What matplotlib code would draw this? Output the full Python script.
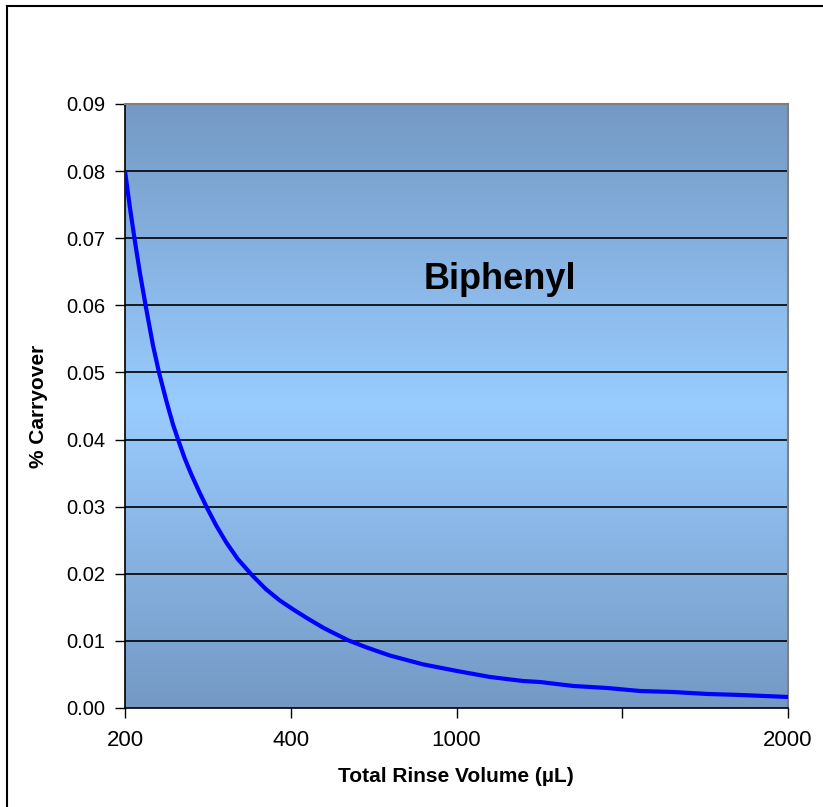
import matplotlib
matplotlib.use('Agg')
import matplotlib.pyplot as plt
import numpy as np
from matplotlib.colors import LinearSegmentedColormap
from matplotlib.lines import Line2D

plt.rcParams['font.family'] = ['Liberation Sans', 'DejaVu Sans']

x_pos = np.array([0.0, 0.03, 0.06, 0.09, 0.127, 0.169, 0.205, 0.25, 0.29, 0.32,
                  0.36, 0.40, 0.45, 0.495, 0.55, 0.61, 0.68, 0.766, 0.85, 0.935,
                  1.02, 1.104, 1.2, 1.345, 1.46, 1.6, 1.798, 2.003, 2.202, 2.401,
                  2.504, 2.703, 2.908, 3.107, 3.306, 3.511, 3.71, 4.0])
carryover = np.array([0.0800, 0.0745, 0.0695, 0.0648, 0.0596, 0.0540, 0.0500, 0.0457,
                      0.0422, 0.0400, 0.0372, 0.0348, 0.0321, 0.0298, 0.0272, 0.0247,
                      0.0222, 0.0198, 0.0177, 0.0160, 0.0146, 0.0133, 0.0119, 0.0101,
                      0.0090, 0.0078, 0.0065, 0.00551, 0.00462, 0.00402, 0.00387,
                      0.00328, 0.00298, 0.00253, 0.00238, 0.00209, 0.00194, 0.00164])

tick_pos = [0, 1, 2, 3, 4]
tick_labels = ['200', '400', '1000', '', '2000']
y_ticks = np.arange(0, 0.0901, 0.01)

fig = plt.figure(figsize=(8.23, 8.07), dpi=100)
ax = fig.add_axes([0.1519, 0.1227, 0.8056, 0.7485])

# gradient background, dark at top and bottom, light in the middle
cmap = LinearSegmentedColormap.from_list('bg', ['#7499C4', '#99CCFF', '#7499C4'])
grad = np.linspace(0, 1, 256).reshape(-1, 1)
ax.imshow(grad, cmap=cmap, aspect='auto', extent=[0, 1, 0, 1],
          transform=ax.transAxes, zorder=0)

for yv in y_ticks[1:-1]:
    ax.axhline(yv, color='black', lw=1.2, zorder=1)

ax.plot(x_pos, carryover, color='#0000FF', lw=3, zorder=3,
        solid_capstyle='butt', solid_joinstyle='round')

ax.set_xlim(0, 4)
ax.set_ylim(0, 0.09)
ax.set_xticks(tick_pos)
ax.set_xticklabels(tick_labels)
ax.set_yticks(y_ticks)
ax.set_yticklabels(['%.2f' % v for v in y_ticks])
ax.tick_params(axis='both', direction='out', length=7, width=1)
ax.tick_params(axis='y', labelsize=14.5, pad=7)
ax.tick_params(axis='x', labelsize=16, pad=9)

for s in ['left', 'bottom']:
    ax.spines[s].set_color('black')
    ax.spines[s].set_linewidth(1.2)
for s in ['top', 'right']:
    ax.spines[s].set_color('#808080')
    ax.spines[s].set_linewidth(1.5)

ax.text(2.26, 0.0638, 'Biphenyl', fontsize=26, fontweight='bold',
        ha='center', va='center', zorder=4)

fig.text(456 / 823, 1 - 776 / 807, 'Total Rinse Volume (µL)', fontsize=15,
         fontweight='bold', ha='center', va='center')
fig.text(38 / 823, 1 - 406 / 807, '% Carryover', fontsize=15, fontweight='bold',
         ha='center', va='center', rotation=90)

# outer chart border (left and top visible)
fig.add_artist(Line2D([7 / 823, 7 / 823], [0, 1 - 6 / 807], color='black', lw=1.5))
fig.add_artist(Line2D([7 / 823, 1], [1 - 6 / 807, 1 - 6 / 807], color='black', lw=1.5))

fig.savefig('out.png', dpi=100)
